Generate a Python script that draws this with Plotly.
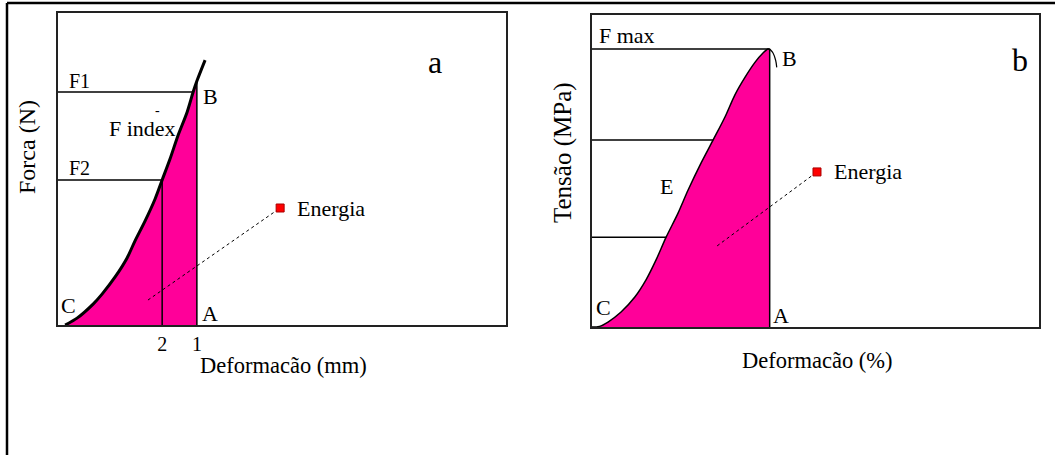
import plotly.graph_objects as go

# ---------------- data (schematic units: x 0..12, y 0..10) ----------------
# Panel a: Forca (N) vs Deformacão (mm)
defo_a = [0.19, 0.51, 0.94, 1.18, 1.53, 1.85, 2.06, 2.33, 2.60, 2.79, 3.00, 3.21, 3.46, 3.62, 3.72, 3.94]
forca_a = [0.00, 0.22, 0.67, 0.99, 1.54, 2.15, 2.69, 3.33, 4.04, 4.65, 5.32, 6.06, 6.83, 7.47, 7.82, 8.49]
x_point1_a = 3.72   # "1" (A-B)
x_point2_a = 2.79   # "2"
f1_a = 7.47
f2_a = 4.65
tick_vals_a = [x_point2_a, x_point1_a]
tick_text_a = ["2", "1"]

# Panel b: Tensão (MPa) vs Deformacão (%)
defo_b = [0.00, 0.20, 0.43, 0.78, 1.15, 1.45, 1.72, 1.99, 2.31, 2.58, 2.93, 3.25, 3.57, 3.84, 4.11, 4.38, 4.59, 4.72, 4.77]
tensao_b = [0.00, 0.02, 0.16, 0.48, 0.96, 1.51, 2.15, 2.88, 3.65, 4.39, 5.26, 5.99, 6.73, 7.45, 8.01, 8.49, 8.78, 8.91, 8.91]
hook_x_b = [4.77, 4.86, 4.93, 4.96]
hook_y_b = [8.91, 8.78, 8.55, 8.32]
x_a_b = 4.77
fmax_b = 8.91
e_lines_b = [(5.99, 3.25), (2.88, 1.99)]   # (level, x where it meets the curve)

# Energia pointers: (start x, start y, marker x, marker y)
energia_a = (2.41, 0.80, 5.95, 3.75)
energia_b = (3.36, 2.60, 6.04, 4.97)

PINK = "#FF0099"
FONT = "Liberation Serif"
W, H = 1055, 455

fig = go.Figure()

def add_panel(xa, ya, xs, ys, x_end, lw):
    fx = [x for x in xs if x <= x_end]
    fy = ys[:len(fx)]
    fig.add_trace(go.Scatter(x=fx, y=fy, fill="tozeroy", fillcolor=PINK,
                             line=dict(width=0, shape="spline", smoothing=0.8), mode="lines",
                             xaxis=xa, yaxis=ya, hoverinfo="skip", showlegend=False))
    fig.add_trace(go.Scatter(x=xs, y=ys, mode="lines",
                             line=dict(color="black", width=lw, shape="spline", smoothing=0.8),
                             xaxis=xa, yaxis=ya, showlegend=False))

def seg(xa, ya, x, y, w=1.5, dash=None, color="black", shape="linear"):
    fig.add_trace(go.Scatter(x=x, y=y, mode="lines",
                             line=dict(color=color, width=w, dash=dash, shape=shape),
                             xaxis=xa, yaxis=ya, showlegend=False, hoverinfo="skip"))

# ---- panel a ----
add_panel("x", "y", defo_a, forca_a, x_point1_a, 3)
seg("x", "y", [x_point1_a, x_point1_a], [0, forca_a[defo_a.index(x_point1_a)]])
seg("x", "y", [x_point2_a, x_point2_a], [0, f2_a])
seg("x", "y", [0, 3.62], [f1_a, f1_a])
seg("x", "y", [0, x_point2_a], [f2_a, f2_a])
sx, sy, mx, my = energia_a
seg("x", "y", [sx, mx], [sy, my], w=1, dash="dot")
fig.add_trace(go.Scatter(x=[mx], y=[my], mode="markers",
                         marker=dict(symbol="square", size=8, color="red",
                                     line=dict(color="#aa0000", width=1)),
                         xaxis="x", yaxis="y", showlegend=False))

# ---- panel b ----
add_panel("x2", "y2", defo_b, tensao_b, x_a_b, 1.5)
seg("x2", "y2", hook_x_b, hook_y_b, w=1.2, shape="spline")
seg("x2", "y2", [x_a_b, x_a_b], [0, fmax_b])
seg("x2", "y2", [0, x_a_b], [fmax_b, fmax_b])
for lvl, xe in e_lines_b:
    seg("x2", "y2", [0, xe], [lvl, lvl])
sx, sy, mx, my = energia_b
seg("x2", "y2", [sx, mx], [sy, my], w=1, dash="dot")
fig.add_trace(go.Scatter(x=[mx], y=[my], mode="markers",
                         marker=dict(symbol="square", size=8, color="red",
                                     line=dict(color="#aa0000", width=1)),
                         xaxis="x2", yaxis="y2", showlegend=False))

ax_common = dict(range=[0, 12], showgrid=False, zeroline=False, showline=True,
                 mirror=True, linecolor="#222", linewidth=2, fixedrange=True)
ay_common = dict(range=[0, 10], showgrid=False, zeroline=False, showline=True,
                 mirror=True, linecolor="#222", linewidth=2, showticklabels=False,
                 fixedrange=True)

fig.update_layout(
    width=W, height=H, margin=dict(l=0, r=0, t=0, b=0),
    paper_bgcolor="white", plot_bgcolor="white",
    font=dict(family=FONT, color="black", size=22),
    xaxis=dict(domain=[58 / W, 506 / W], tickvals=tick_vals_a, ticktext=tick_text_a,
               ticks="", tickfont=dict(size=20, family=FONT), **ax_common),
    yaxis=dict(domain=[1 - 325 / H, 1 - 13 / H], anchor="x", **ay_common),
    xaxis2=dict(domain=[592 / W, 1039 / W], showticklabels=False, anchor="y2", **ax_common),
    yaxis2=dict(domain=[1 - 327 / H, 1 - 15 / H], anchor="x2", **ay_common),
)

def ann(text, x, y, xref, yref, size=22, xanchor="left", yanchor="middle", angle=0):
    fig.add_annotation(text=text, x=x, y=y, xref=xref, yref=yref, showarrow=False,
                       xanchor=xanchor, yanchor=yanchor, textangle=angle,
                       font=dict(size=size, family=FONT, color="black"))

# panel a labels
ann("a", 10.1, 8.43, "x", "y", size=32, xanchor="center")
ann("F1", 0.24, 7.82, "x", "y", size=20)
ann("F2", 0.24, 5.03, "x", "y", size=20)
ann("F index", 1.30, 6.31, "x", "y")
ann("-", 2.66, 6.88, "x", "y", size=14, xanchor="center")
ann("B", 3.83, 7.31, "x", "y")
ann("A", 3.80, 0.38, "x", "y")
ann("C", 0.02, 0.64, "x", "y")
ann("Energia", 6.35, 3.75, "x", "y")

# panel b labels
ann("b", 11.49, 8.56, "x2", "y2", size=32, xanchor="center")
ann("F max", 0.14, 9.33, "x2", "y2")
ann("B", 5.04, 8.62, "x2", "y2")
ann("E", 2.01, 4.49, "x2", "y2", xanchor="center")
ann("A", 4.80, 0.38, "x2", "y2")
ann("C", 0.06, 0.61, "x2", "y2")
ann("Energia", 6.44, 4.97, "x2", "y2")

# axis titles
ann("Deformacão (mm)", 283 / W, 1 - 365 / H, "paper", "paper", size=22.5, xanchor="center")
ann("Forca (N)", 27 / W, 1 - 147 / H, "paper", "paper", size=24, xanchor="center", angle=-90)
ann("Tensão (MPa)", 563 / W, 1 - 153 / H, "paper", "paper", size=25, xanchor="center", angle=-90)
ann("Deformacão (%)", 817 / W, 1 - 360 / H, "paper", "paper", size=22.5, xanchor="center")

# outer frame (left and top edges of the figure border)
fig.add_shape(type="line", xref="paper", yref="paper", x0=7 / W, x1=7 / W, y0=0, y1=1 - 3 / H,
              line=dict(color="black", width=2.5))
fig.add_shape(type="line", xref="paper", yref="paper", x0=7 / W, x1=1, y0=1 - 3 / H, y1=1 - 3 / H,
              line=dict(color="black", width=2.5))

fig.write_html("out.html", config={"displayModeBar": False},
               post_script="document.body.style.margin='0';document.body.style.overflow='hidden';")
